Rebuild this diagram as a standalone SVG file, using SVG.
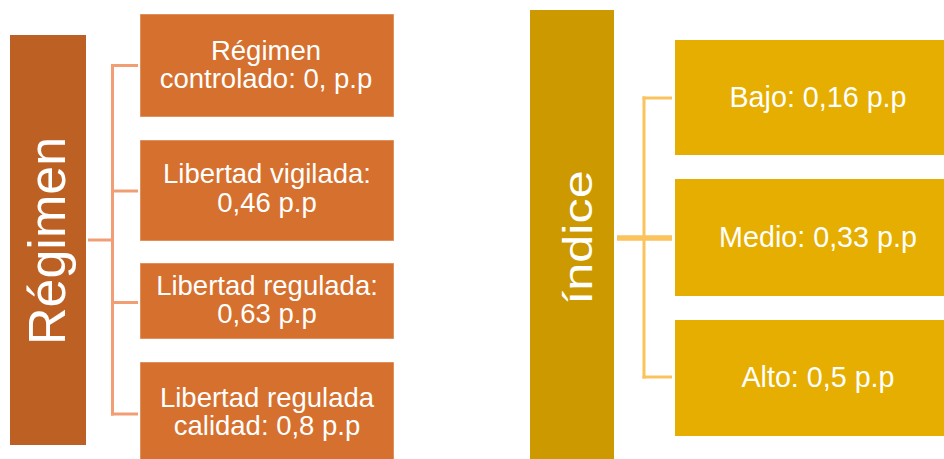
<svg xmlns="http://www.w3.org/2000/svg" width="944" height="459" viewBox="0 0 944 459">
  <style>
    .bar1 { fill: #BC6024; }
    .box1 { fill: #D6702E; stroke: #FFFFFF; stroke-opacity: 0.45; stroke-width: 1; }
    .bar2 { fill: #CC9900; }
    .box2 { fill: #E6AE00; }
    .t { font-family: "Liberation Sans", Arial, sans-serif; fill: #FFFFFF; text-anchor: middle; }
    .bt { font-size: 27.5px; }
    .bt2 { font-size: 28.7px; }
    .c1 { stroke: #F19E74; stroke-width: 3; fill: none; }
    .c2 { stroke: #FAC35C; stroke-width: 3; fill: none; }
    .c2t { stroke: #FAC35C; stroke-width: 5.5; fill: none; }
  </style>

  <g id="connectors">
    <line class="c1" x1="88" y1="240" x2="112.5" y2="240"/>
    <line class="c1" x1="112.5" y1="64" x2="112.5" y2="415.5"/>
    <line class="c1" x1="111" y1="65.5" x2="138" y2="65.5"/>
    <line class="c1" x1="111" y1="191" x2="138" y2="191"/>
    <line class="c1" x1="111" y1="302.5" x2="138" y2="302.5"/>
    <line class="c1" x1="111" y1="414" x2="138" y2="414"/>

    <line class="c2t" x1="617" y1="238" x2="672" y2="238"/>
    <line class="c2" x1="644" y1="96.5" x2="644" y2="378.5"/>
    <line class="c2" x1="642.5" y1="98" x2="672" y2="98"/>
    <line class="c2" x1="642.5" y1="377" x2="672" y2="377"/>
  </g>

  <g id="regimen">
    <rect class="bar1" x="10" y="35" width="76" height="410"/>
    <text class="t" font-size="52" transform="translate(65,241) rotate(-90)">Régimen</text>
  </g>

  <g id="regimen-controlado">
    <rect class="box1" x="140" y="14" width="254" height="103"/>
    <text class="t bt" x="266" y="60">Régimen</text>
    <text class="t bt" x="266" y="88">controlado: 0, p.p</text>
  </g>

  <g id="libertad-vigilada">
    <rect class="box1" x="140" y="140" width="254" height="101"/>
    <text class="t bt" x="267" y="183">Libertad vigilada:</text>
    <text class="t bt" x="267" y="212">0,46 p.p</text>
  </g>

  <g id="libertad-regulada">
    <rect class="box1" x="140" y="263" width="254" height="76"/>
    <text class="t bt" x="267" y="295">Libertad regulada:</text>
    <text class="t bt" x="267" y="323">0,63 p.p</text>
  </g>

  <g id="libertad-regulada-calidad">
    <rect class="box1" x="140" y="362" width="254" height="98"/>
    <text class="t bt" x="267" y="407">Libertad regulada</text>
    <text class="t bt" x="267" y="435">calidad: 0,8 p.p</text>
  </g>

  <g id="indice">
    <rect class="bar2" x="530" y="10" width="84" height="450"/>
    <text class="t" font-size="40" transform="translate(592,237.5) rotate(-90) scale(1.26,1)">índice</text>
  </g>

  <g id="bajo">
    <rect class="box2" x="675" y="40" width="269" height="115"/>
    <text class="t bt2" x="818" y="107">Bajo: 0,16 p.p</text>
  </g>

  <g id="medio">
    <rect class="box2" x="675" y="179" width="269" height="117"/>
    <text class="t bt2" x="818" y="247">Medio: 0,33 p.p</text>
  </g>

  <g id="alto">
    <rect class="box2" x="675" y="320" width="269" height="116"/>
    <text class="t bt2" x="818" y="387">Alto: 0,5 p.p</text>
  </g>
</svg>
